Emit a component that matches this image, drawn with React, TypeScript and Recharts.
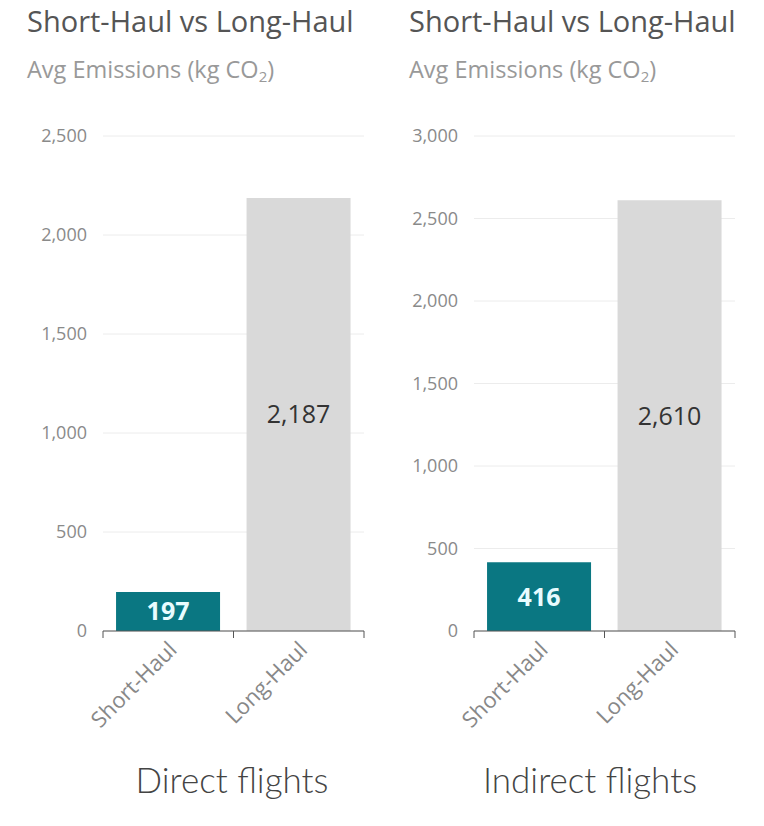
import React from 'react';
import { BarChart, Bar, XAxis, YAxis, CartesianGrid, Cell, LabelList } from 'recharts';

const categories = ['Short-Haul', 'Long-Haul'];
const directValues = [197, 2187];
const indirectValues = [416, 2610];
const directTicks = [0, 500, 1000, 1500, 2000, 2500];
const indirectTicks = [0, 500, 1000, 1500, 2000, 2500, 3000];
const barColors = ['#0a7782', '#d9d9d9'];

const TITLE = 'Short-Haul vs Long-Haul';
const FONT = '"Open Sans", "Noto Sans", sans-serif';

const fmt = (v: number) => v.toLocaleString('en-US');

const makeXTick = (half: number) => (props: any) => {
  const { x, y, payload, index, visibleTicksCount } = props;
  const last = index === visibleTicksCount - 1;
  return (
    <g>
      <line x1={x - half} x2={x - half} y1={y} y2={y + 7} stroke="#555" />
      {last && <line x1={x + half} x2={x + half} y1={y} y2={y + 7} stroke="#555" />}
      <text
        transform={`translate(${x + 10},${y + 20}) rotate(-45)`}
        textAnchor="end"
        fill="#888"
        fontSize={22}
        fontFamily={FONT}
      >
        {payload.value}
      </text>
    </g>
  );
};

const renderValue = (props: any) => {
  const { x, y, width, height, value, index } = props;
  const short = index === 0;
  return (
    <text
      x={x + width / 2}
      y={y + height / 2}
      dy="0.36em"
      textAnchor="middle"
      fill={short ? '#e8fcff' : '#333'}
      fontWeight={short ? 700 : 400}
      fontSize={25}
      fontFamily={FONT}
    >
      {fmt(value)}
    </text>
  );
};

type PanelProps = {
  left: number;
  values: number[];
  ticks: number[];
  axisWidth: number;
  rightMargin: number;
  caption: string;
  captionCenter: number;
};

const Panel: React.FC<PanelProps> = ({ left, values, ticks, axisWidth, rightMargin, caption, captionCenter }) => {
  const data = categories.map((name, i) => ({ name, value: values[i] }));
  const width = 382;
  const half = (width - axisWidth - rightMargin) / categories.length / 2;
  return (
    <div style={{ position: 'absolute', left, top: 0, width, height: 826 }}>
      <div style={{ position: 'absolute', left: 27, top: 1, fontSize: 29, color: '#555', whiteSpace: 'nowrap' }}>
        {TITLE}
      </div>
      <div style={{ position: 'absolute', left: 27, top: 53, fontSize: 23.5, color: '#999', whiteSpace: 'nowrap' }}>
        Avg Emissions (kg CO
        <sub style={{ fontSize: 15, verticalAlign: 'baseline', position: 'relative', top: 4 }}>2</sub>)
      </div>
      <BarChart
        width={width}
        height={826}
        data={data}
        margin={{ top: 136, right: rightMargin, left: 0, bottom: 105 }}
        barCategoryGap="10%"
      >
        <CartesianGrid vertical={false} stroke="#ececec" />
        <XAxis
          dataKey="name"
          height={90}
          interval={0}
          tickLine={false}
          tickSize={0}
          tickMargin={0}
          stroke="#555"
          tick={makeXTick(half)}
        />
        <YAxis
          width={axisWidth}
          domain={[0, ticks[ticks.length - 1]]}
          ticks={ticks}
          axisLine={false}
          tickLine={false}
          tickSize={0}
          tickMargin={16}
          tickFormatter={fmt}
          tick={{ fill: '#8a8a8a', fontSize: 18, fontFamily: FONT }}
        />
        <Bar dataKey="value" isAnimationActive={false}>
          {data.map((d, i) => (
            <Cell key={d.name} fill={barColors[i]} />
          ))}
          <LabelList dataKey="value" content={renderValue} />
        </Bar>
      </BarChart>
      <div
        style={{
          position: 'absolute',
          left: captionCenter - left - 150,
          width: 300,
          top: 758,
          textAlign: 'center',
          fontFamily: 'Lato, sans-serif',
          fontWeight: 300,
          fontSize: 35,
          color: '#444',
          whiteSpace: 'nowrap',
        }}
      >
        {caption}
      </div>
    </div>
  );
};

export default function App() {
  return (
    <div
      style={{
        position: 'absolute',
        left: 0,
        top: 0,
        width: 764,
        height: 826,
        background: '#fff',
        fontFamily: FONT,
      }}
    >
      <Panel
        left={0}
        values={directValues}
        ticks={directTicks}
        axisWidth={103}
        rightMargin={18}
        caption="Direct flights"
        captionCenter={232}
      />
      <Panel
        left={382}
        values={indirectValues}
        ticks={indirectTicks}
        axisWidth={92}
        rightMargin={29}
        caption="Indirect flights"
        captionCenter={590}
      />
    </div>
  );
}
